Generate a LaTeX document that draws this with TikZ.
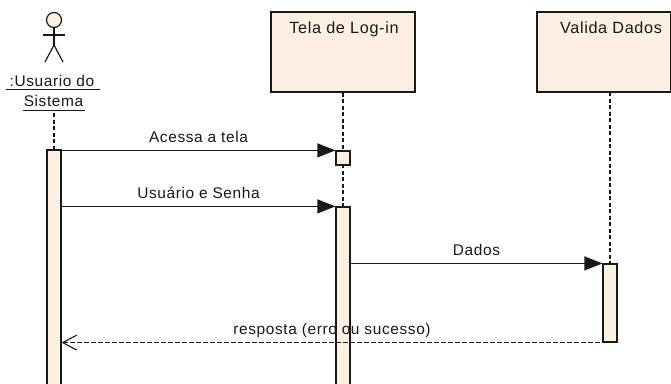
\documentclass[tikz,border=0pt]{standalone}
\usepackage{fontspec}
\newfontfamily\lblfont{Liberation Sans}[LetterSpace=4]
\usetikzlibrary{arrows.meta}
\definecolor{beige}{RGB}{251,240,226}
\definecolor{linec}{RGB}{25,25,25}
\begin{document}
\begin{tikzpicture}[x=1bp,y=-1bp,
  lbl/.style={font=\lblfont\fontsize{15.5}{18}\selectfont, inner sep=0pt, anchor=base, text=linec},
  ttl/.style={lbl, font=\lblfont\fontsize{16.3}{18}\selectfont},
  box/.style={draw=linec, fill=beige, line width=1.2bp},
  act/.style={box, minimum width=14bp, inner sep=0pt},
  life/.style={draw=linec, line width=1.2bp, dash pattern=on 4bp off 2.5bp},
  msg/.style={draw=linec, line width=1.2bp, -{Triangle[length=18bp,width=14bp]}},
  ret/.style={draw=linec, line width=1.1bp, dash pattern=on 4.5bp off 2.5bp, {Straight Barb[length=14bp,width=15bp]}-},
  stick/.style={draw=linec, line width=1.2bp}]
\useasboundingbox (0,0) rectangle (671,383);
\clip (0,0) rectangle (671,383);
\fill[white] (0,0) rectangle (671,383);

% actor
\node[circle, box, minimum size=15bp, inner sep=0pt] (head) at (54,20) {};
\coordinate (hip) at (54,45);
\coordinate (armL) at (43,35);
\coordinate (armR) at (65,35);
\coordinate (legL) at (45,62);
\coordinate (legR) at (63,62);
\draw[stick] (head.south) -- (hip);
\draw[stick] (armL) -- (armR);
\draw[stick] (legL) -- (hip) -- (legR);
\node[lbl] (u1) at (52,86) {:Usuario do};
\node[lbl] (u2) at (53.5,106.5) {Sistema};
\draw[stick] (6,89.5) -- (100,89.5);
\draw[stick] (23,110.5) -- (85,110.5);
\coordinate (alife) at (54,113);

% participants
\node[box, minimum width=144bp, minimum height=80bp, inner sep=0pt] (tela) at (343,52) {};
\node[ttl] (telaT) at (344,33) {Tela de Log-in};
\node[box, minimum width=133.5bp, minimum height=80bp, inner sep=0pt] (vbox) at (603.75,52) {};
\node[ttl] (vboxT) at (611,33) {Valida Dados};

% activations (positions)
\node[act, minimum height=240bp] (a1) at (54,270) {};
\node[act, minimum height=14bp] (s1) at (343,158) {};
\node[act, minimum height=190bp] (a2) at (343,302) {};
\node[act, minimum height=78bp] (a3) at (610,303) {};

% lifelines
\draw[life] (alife) -- (a1.north);
\coordinate (telaEnd) at (343,390);
\draw[life] (tela.south) -- (telaEnd);
\coordinate (vtop) at (610,92);
\draw[life] (vtop) -- (a3.north);

% redraw activations on top
\node[act, minimum height=240bp] at (a1) {};
\node[act, minimum height=14bp] at (s1) {};
\node[act, minimum height=190bp] at (a2) {};
\node[act, minimum height=78bp] at (a3) {};

% messages
\draw[msg] (a1.east |- s1.north west) -- (s1.north west)
  node[lbl, midway, yshift=7.5bp] (m1) {Acessa a tela};
\draw[msg] (a1.east |- a2.north west) -- (a2.north west)
  node[lbl, midway, yshift=7.5bp] (m2) {Usuário e Senha};
\draw[msg] (a2.east |- a3.north west) -- (a3.north west)
  node[lbl, midway, yshift=7.5bp] (m3) {Dados};
\draw[ret] (a1.east |- a3.south west) -- (a3.south west)
  node[lbl, midway, yshift=8bp] (m4) {resposta (erro ou sucesso)};
\end{tikzpicture}
\end{document}
